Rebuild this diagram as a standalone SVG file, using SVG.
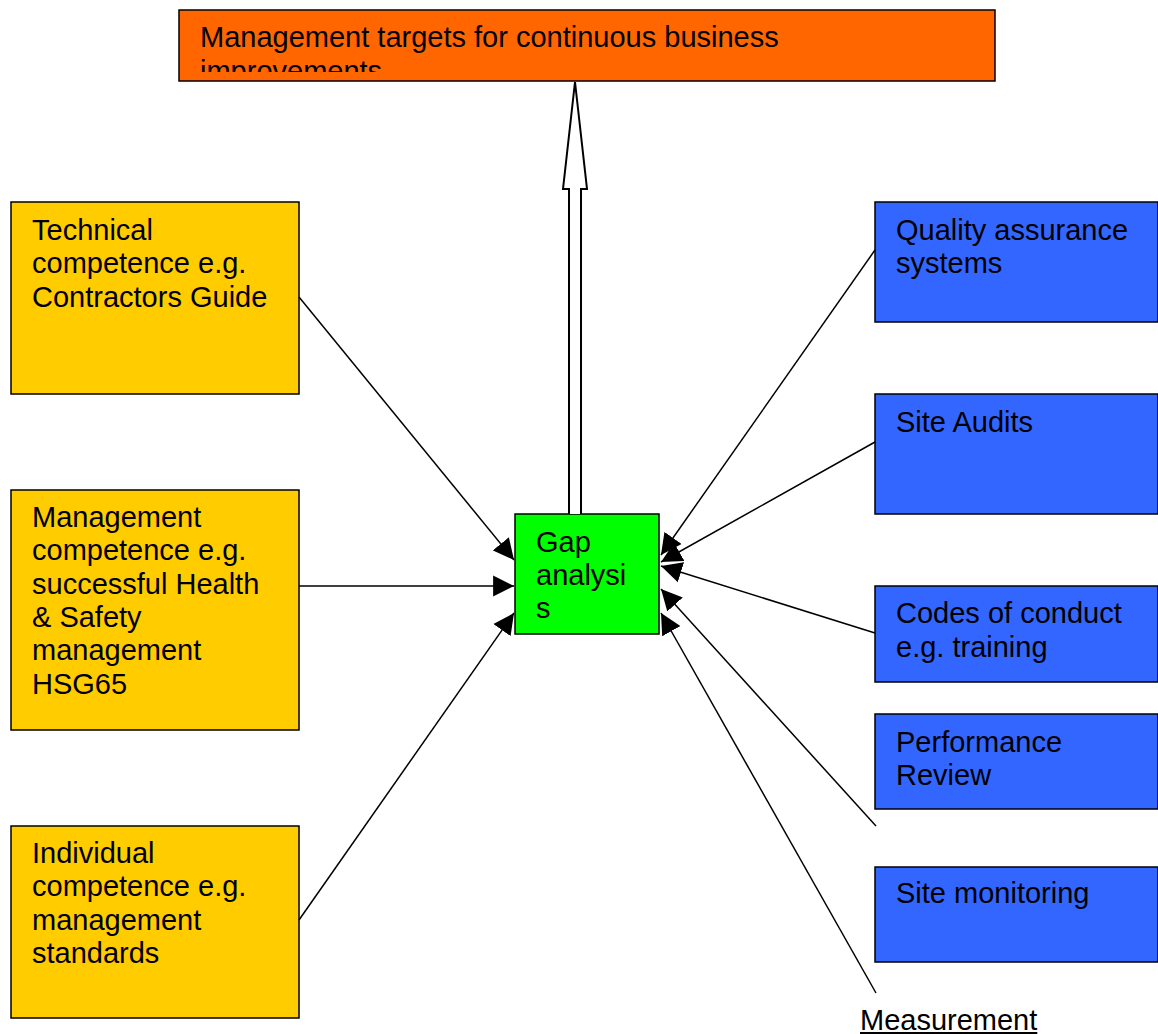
<svg xmlns="http://www.w3.org/2000/svg" width="1158" height="1034" viewBox="0 0 1158 1034">
<style>
.box{stroke:#000;stroke-width:1.5}
.orange{fill:#FF6600}
.yellow{fill:#FFCC00}
.green{fill:#00FF00}
.blue{fill:#3366FF}
text{font-family:"Liberation Sans",Arial,sans-serif;font-size:29px;fill:#000}
.conn{stroke:#000;stroke-width:1.5;fill:none}
</style>
<defs>
<marker id="ah" markerUnits="userSpaceOnUse" markerWidth="22" markerHeight="22" viewBox="0 -10 20 20" refX="19" refY="0" orient="auto">
<path d="M0,-9.5 L19,0 L0,9.5 z" fill="#000"/>
</marker>
<clipPath id="topclip"><rect x="179" y="10" width="816" height="62"/></clipPath>
</defs>
<rect width="1158" height="1034" fill="#fff"/>

<g id="node-targets">
<rect class="box orange" x="179" y="10" width="816" height="71"/>
<g clip-path="url(#topclip)">
<text x="200" y="47">Management targets for continuous business</text>
<text x="200" y="80.5">improvements</text>
</g>
</g>

<g id="node-technical">
<rect class="box yellow" x="11" y="202" width="288" height="192"/>
<text x="32" y="240">Technical</text>
<text x="32" y="273.3">competence e.g.</text>
<text x="32" y="306.7">Contractors Guide</text>
</g>

<g id="node-management">
<rect class="box yellow" x="11" y="490" width="288" height="240"/>
<text x="32" y="527">Management</text>
<text x="32" y="560.3">competence e.g.</text>
<text x="32" y="593.6">successful Health</text>
<text x="32" y="627">&amp; Safety</text>
<text x="32" y="660.3">management</text>
<text x="32" y="693.6">HSG65</text>
</g>

<g id="node-individual">
<rect class="box yellow" x="11" y="826" width="288" height="192"/>
<text x="32" y="863">Individual</text>
<text x="32" y="896.3">competence e.g.</text>
<text x="32" y="929.6">management</text>
<text x="32" y="963">standards</text>
</g>

<g id="node-gap">
<rect class="box green" x="515" y="514" width="144" height="120"/>
<text x="536" y="552">Gap</text>
<text x="536" y="585">analysi</text>
<text x="536" y="618">s</text>
</g>

<g id="node-quality">
<rect class="box blue" x="875" y="202" width="283" height="120"/>
<text x="896" y="240">Quality assurance</text>
<text x="896" y="273">systems</text>
</g>

<g id="node-audits">
<rect class="box blue" x="875" y="394" width="283" height="120"/>
<text x="896" y="432">Site Audits</text>
</g>

<g id="node-codes">
<rect class="box blue" x="875" y="586" width="283" height="96"/>
<text x="896" y="623.3">Codes of conduct</text>
<text x="896" y="656.7">e.g. training</text>
</g>

<g id="node-performance">
<rect class="box blue" x="875" y="714" width="283" height="95"/>
<text x="896" y="751.7">Performance</text>
<text x="896" y="784.5">Review</text>
</g>

<g id="node-monitoring">
<rect class="box blue" x="875" y="867" width="283" height="95"/>
<text x="896" y="903">Site monitoring</text>
</g>

<g id="node-measurement">
<text x="860" y="1030" text-decoration="underline">Measurement</text>
</g>

<g id="connectors">
<path class="conn" d="M569,514 L569,189 L563,189 L575,82 L587,189 L581,189 L581,514" fill="#fff" style="fill:#fff;stroke-width:2"/>
<line class="conn" x1="299" y1="297" x2="514" y2="560" marker-end="url(#ah)"/>
<line class="conn" x1="299" y1="586" x2="514" y2="586" marker-end="url(#ah)"/>
<line class="conn" x1="299" y1="920" x2="514" y2="613" marker-end="url(#ah)"/>
<line class="conn" x1="875" y1="250" x2="661" y2="555" marker-end="url(#ah)"/>
<line class="conn" x1="875" y1="442" x2="661" y2="562" marker-end="url(#ah)"/>
<line class="conn" x1="875" y1="633" x2="661" y2="566" marker-end="url(#ah)"/>
<line class="conn" x1="876" y1="826" x2="661" y2="589" marker-end="url(#ah)"/>
<line class="conn" x1="876" y1="993" x2="661" y2="613" marker-end="url(#ah)"/>
</g>
</svg>
